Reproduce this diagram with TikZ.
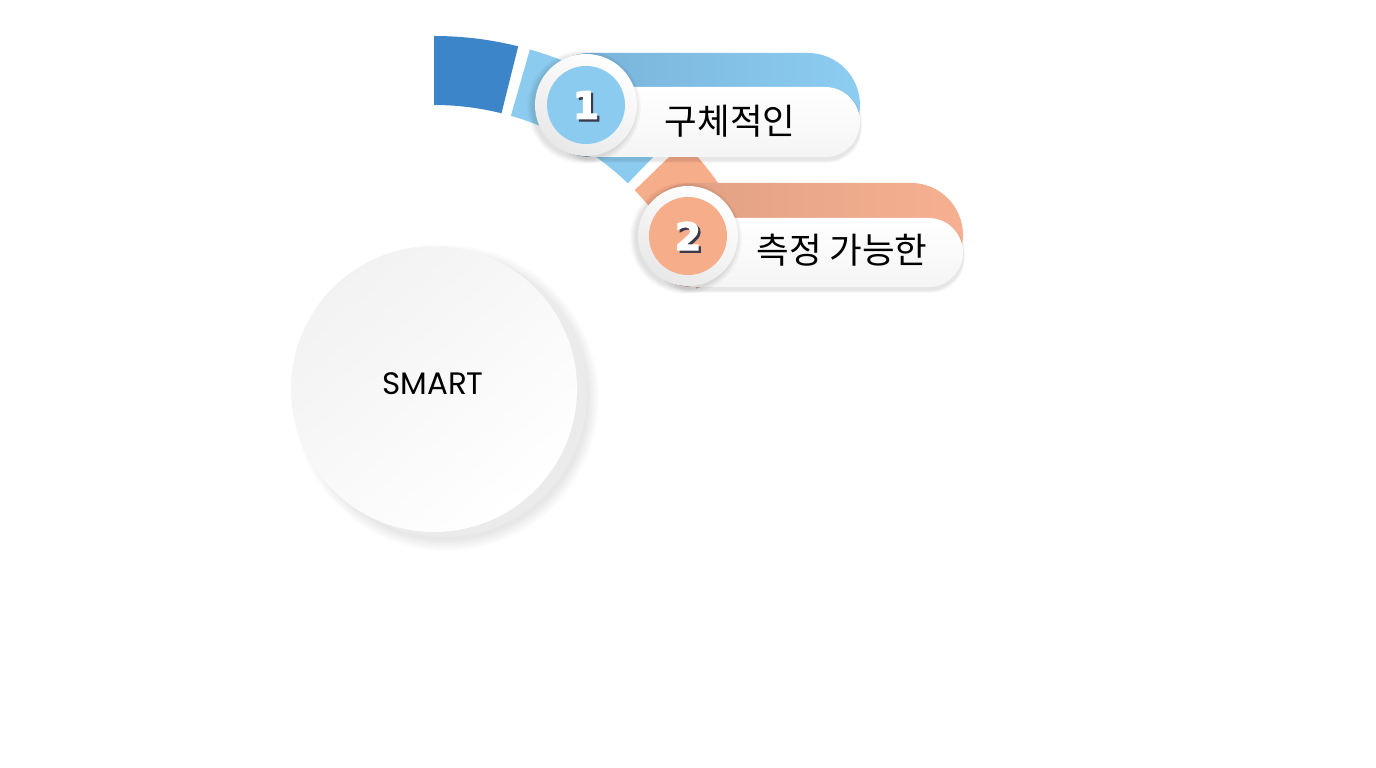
\documentclass[tikz,border=0pt]{standalone}
\usepackage{fontspec}
\setmainfont{Poppins}
\newfontfamily\kr{Noto Sans CJK KR}
\newfontfamily\numfont[FakeBold=3]{DejaVu Sans}
\definecolor{dblue}{HTML}{3B85C8}
\definecolor{lblue}{HTML}{8CCBF0}
\definecolor{orng}{HTML}{F6AD8A}
\definecolor{bandBl}{HTML}{76AFD7}
\definecolor{bandBr}{HTML}{8DCDF1}
\definecolor{bandOl}{HTML}{DF9F82}
\definecolor{bandOr}{HTML}{F6B091}
\definecolor{numshadow}{HTML}{3A3A4A}
\tikzset{
  labeltext/.style={font=\kr\fontsize{35.5}{38}\selectfont, text=black, inner sep=0pt},
  numtext/.style={font=\numfont\bfseries\fontsize{38}{38}\selectfont, inner sep=0pt},
  ringdisk/.style={circle, minimum size=100pt, inner sep=0pt, top color=white, bottom color=black!9, shading angle=-30},
}
\begin{document}
\begin{tikzpicture}[x=1pt,y=1pt]
\useasboundingbox (0,0) rectangle (1376,768);
\fill[white] (0,0) rectangle (1376,768);

% ---- ring segments ----
\begin{scope}[shift={(434,384)}]
  \fill[dblue] (90:348pt) arc[start angle=90,end angle=76,radius=348pt] -- (76:279pt) arc[start angle=76,end angle=90,radius=279pt] -- cycle;
  \fill[lblue] (74:348pt) arc[start angle=74,end angle=46,radius=348pt] -- (46:279pt) arc[start angle=46,end angle=74,radius=279pt] -- cycle;
  \fill[orng] (44:348pt) arc[start angle=44,end angle=20,radius=348pt] -- (20:279pt) arc[start angle=20,end angle=44,radius=279pt] -- cycle;
\end{scope}

% ---- SMART circle ----
\foreach \i in {1,...,8}
  \fill[black, opacity=0.011] (446,370) circle[radius=141pt+\i*1.5pt];
\fill[black!8] (444,374) circle[radius=143pt];
\shade[top color=black!5, bottom color=white, shading angle=40] (434,379) circle[radius=143pt];
\node[font=\fontsize{31}{32}\selectfont, inner sep=0pt] (smart) at (433,384) {SMART};

% ---- item 2 (drawn first, lies below item 1) ----
\shade[left color=bandOl, right color=bandOr, rounded corners=52pt] (640,481) rectangle (963,585);
\foreach \i in {1,...,5}
  \fill[black, opacity=0.018, rounded corners=35pt] (660-\i,478-\i*0.6) rectangle (963+\i*0.4,550-\i*0.2);
\shade[top color=white, bottom color=black!4, rounded corners=34.5pt] (660,481) rectangle (963,550);
\foreach \i in {1,...,6}
  \fill[black, opacity=0.018] (686,530) circle[radius=50pt+\i*1pt];
\node[ringdisk] (c2) at (688,532) {};
\fill[orng] (c2.center) circle[radius=39pt];
\node[numtext, text=numshadow] (n2s) at (690.3,529.8) {2};
\node[numtext, text=white] (n2) at (688,532) {2};
\node[labeltext] (t2) at (842,518) {측정 가능한};

% ---- item 1 ----
\shade[left color=bandBl, right color=bandBr, rounded corners=52pt] (538,611) rectangle (860,715);
\foreach \i in {1,...,5}
  \fill[black, opacity=0.018, rounded corners=35pt] (560-\i,608-\i*0.6) rectangle (860+\i*0.4,681-\i*0.2);
\shade[top color=white, bottom color=black!4, rounded corners=35pt] (560,611) rectangle (860,681);
\foreach \i in {1,...,6}
  \fill[black, opacity=0.018] (584,661) circle[radius=51pt+\i*1pt];
\node[ringdisk, minimum size=102pt] (c1) at (586,663) {};
\fill[lblue] (c1.center) circle[radius=39pt];
\node[numtext, text=numshadow] (n1s) at (588.3,660.8) {1};
\node[numtext, text=white] (n1) at (586,663) {1};
\node[labeltext] (t1) at (730,647) {구체적인};

\end{tikzpicture}
\end{document}
